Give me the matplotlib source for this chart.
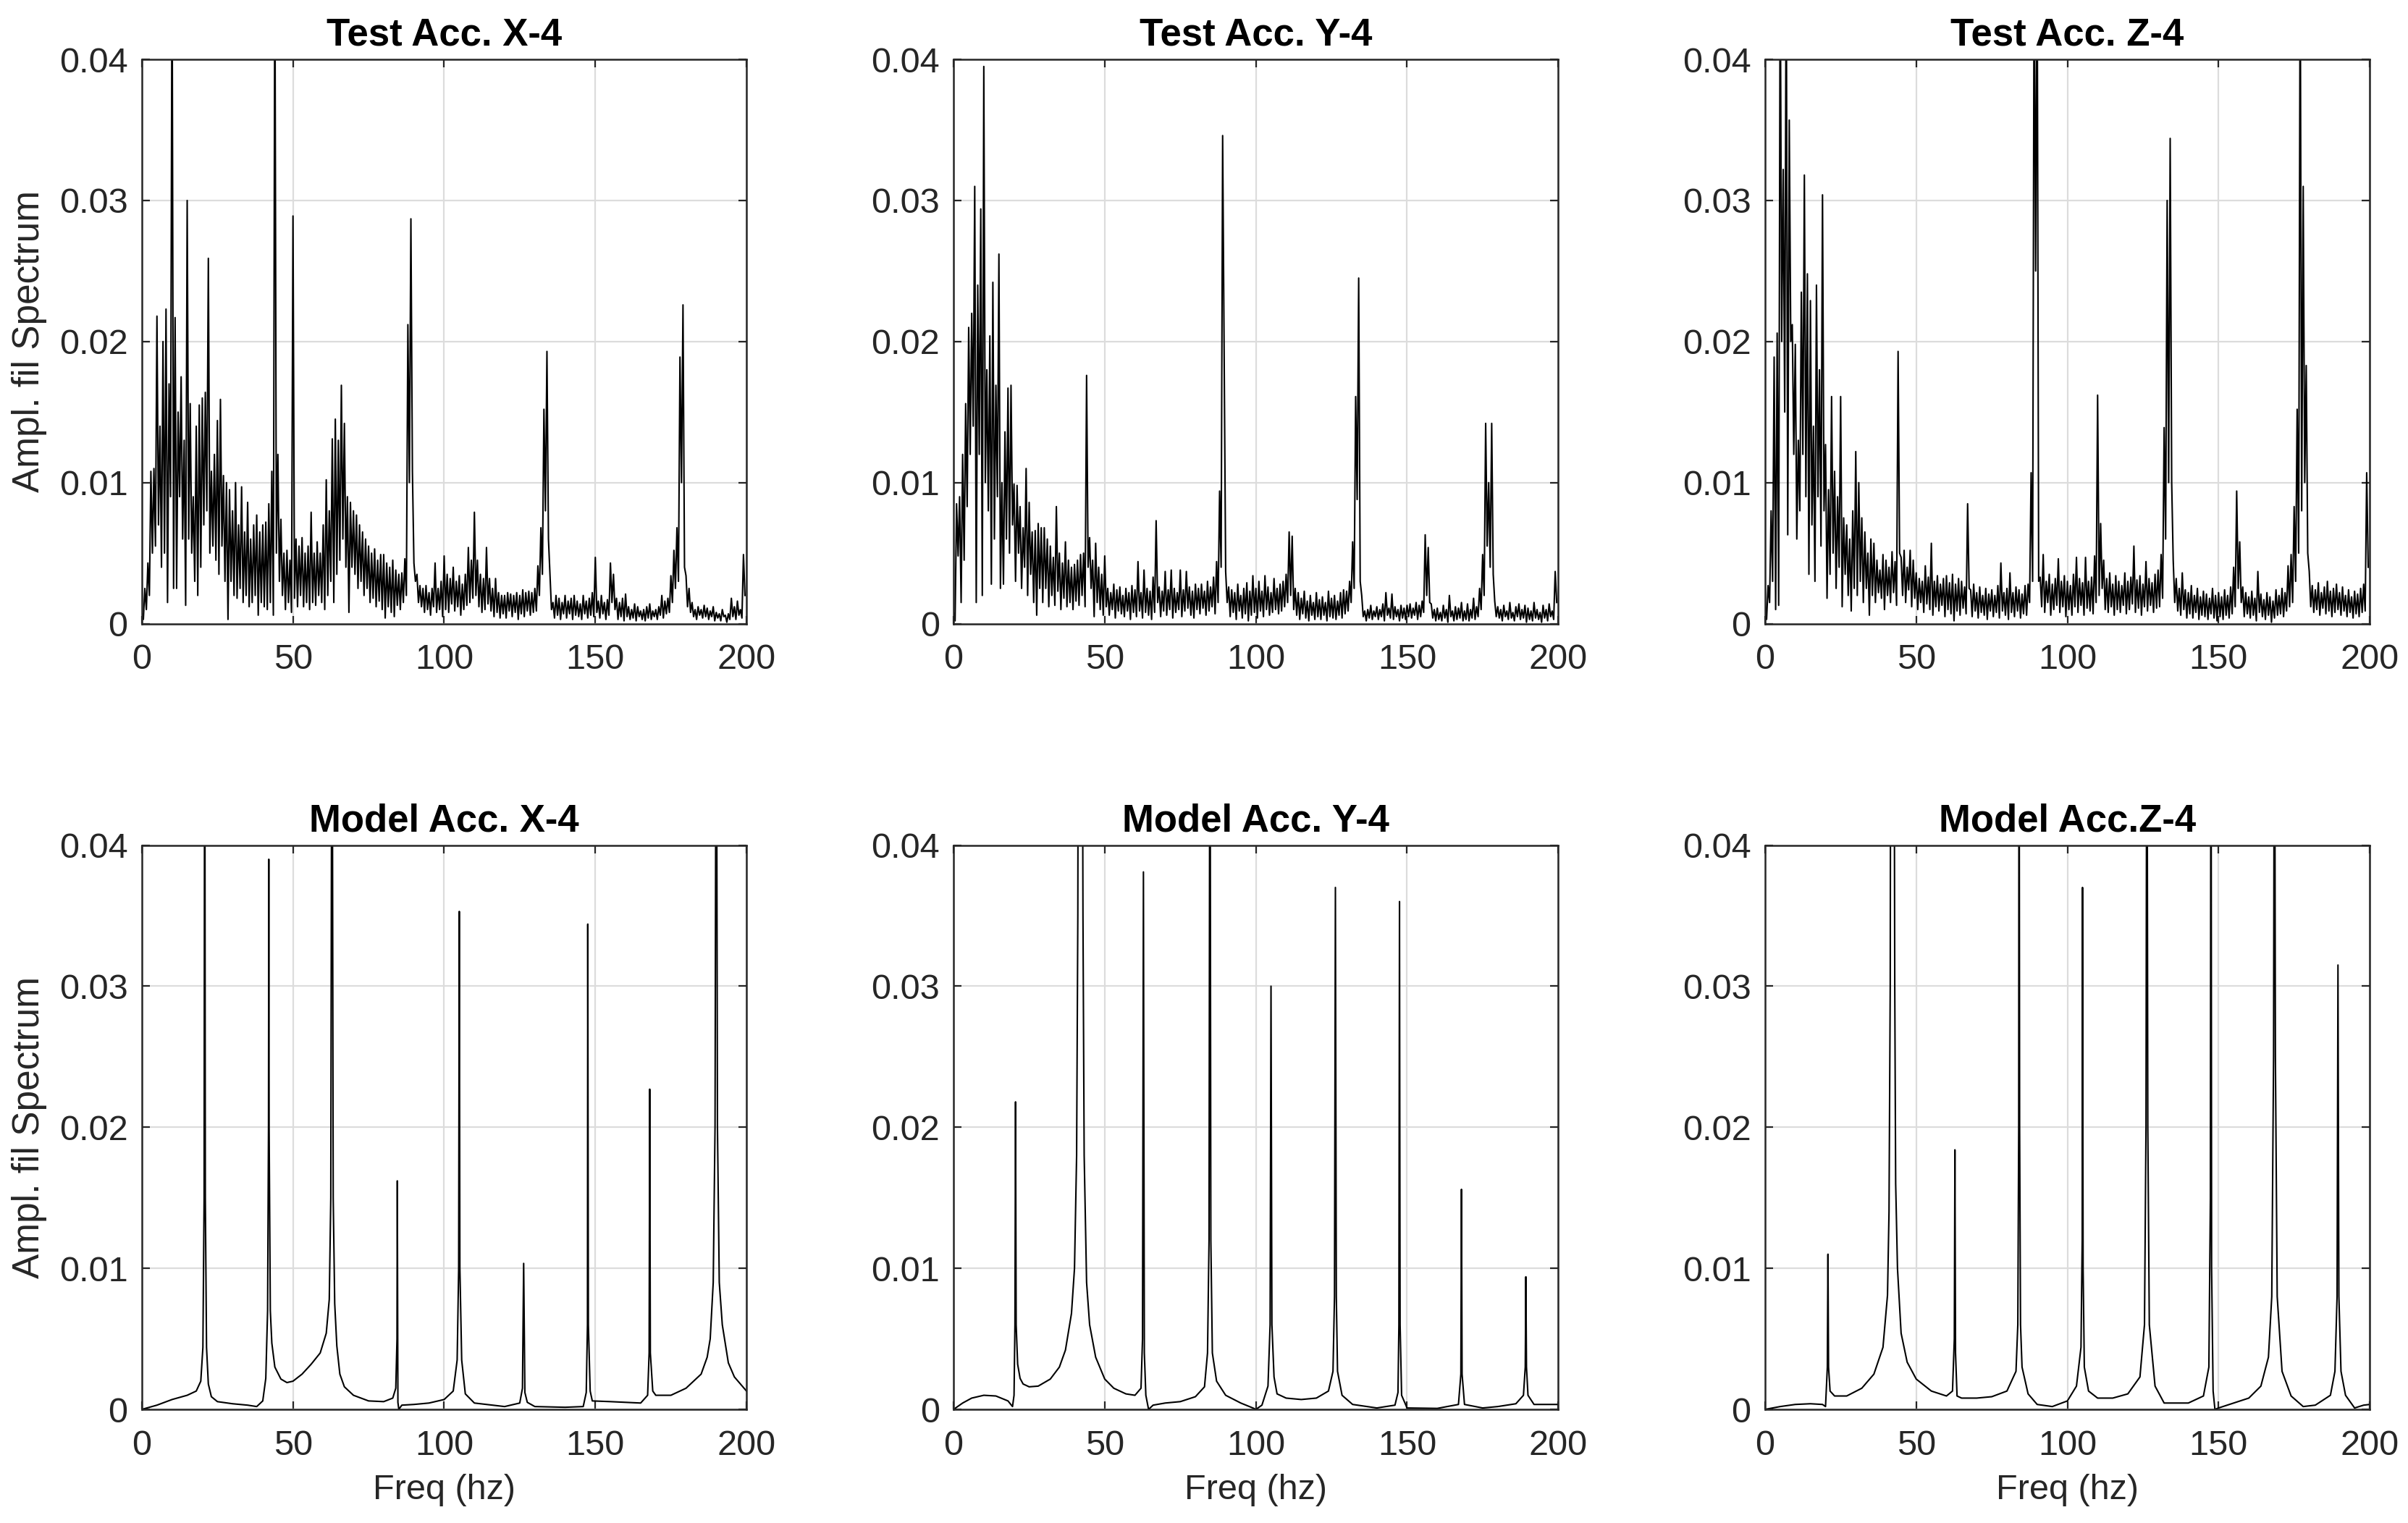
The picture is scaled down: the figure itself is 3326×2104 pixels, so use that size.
import matplotlib
matplotlib.use('Agg')
import matplotlib.pyplot as plt
import numpy as np

plt.rcParams['font.family'] = ['Liberation Sans', 'DejaVu Sans']

# ---- data (amplitudes in 1e-3 units) ----
titles = ['Test Acc. X-4', 'Test Acc. Y-4', 'Test Acc. Z-4',
          'Model Acc. X-4', 'Model Acc. Y-4', 'Model Acc.Z-4']
ylabel = 'Ampl. fil Spectrum'
xlabel = 'Freq (hz)'
xticks = [0, 50, 100, 150, 200]
xticklabels = ['0', '50', '100', '150', '200']
yticks = [0, 0.01, 0.02, 0.03, 0.04]
yticklabels = ['0', '0.01', '0.02', '0.03', '0.04']

# test spectra: per 1 Hz bin, upper and lower value of the noisy trace
test_bins = np.arange(200)

test_x_hi = [
    0.8, 2.5, 4.3, 10.8, 11.0, 21.8, 14.0, 20.0, 22.3, 17.0,
    48, 21.7, 15.0, 17.5, 13.0, 30.0, 15.6, 9.0, 14.0, 15.5,
    16.0, 16.4, 25.9, 10.8, 12.0, 14.4, 15.9, 10.5, 10.0, 9.5,
    8.0, 10.0, 7.0, 9.7, 6.5, 8.6, 6.0, 7.0, 7.7, 6.5,
    7.0, 7.2, 8.5, 10.8, 48, 12.0, 7.4, 5.0, 5.2, 4.5,
    28.9, 6.0, 5.5, 6.1, 5.0, 5.5, 7.9, 5.0, 5.8, 5.0,
    7.0, 10.2, 8.0, 13.1, 14.5, 13.0, 16.9, 14.2, 9.0, 8.6,
    8.0, 7.7, 7.0, 6.5, 6.0, 5.5, 5.0, 5.3, 4.5, 4.9,
    4.9, 4.3, 4.0, 4.5, 3.8, 3.5, 3.6, 4.6, 21.2, 28.7,
    4.3, 3.5, 2.7, 2.5, 2.7, 2.2, 2.5, 4.3, 2.5, 3.0,
    4.8, 3.5, 3.2, 4.0, 3.0, 3.4, 2.8, 3.5, 5.4, 4.5,
    7.9, 4.5, 3.5, 3.2, 5.4, 3.2, 2.5, 3.2, 2.2, 2.0,
    2.0, 2.2, 2.1, 2.0, 2.2, 2.0, 2.4, 2.2, 2.3, 2.2,
    2.5, 4.1, 6.8, 15.2, 19.3, 3.5, 1.5, 2.0, 1.8, 1.5,
    2.0, 1.6, 1.8, 2.0, 1.6, 1.4, 2.0, 1.6, 1.8, 2.2,
    4.7, 1.6, 2.0, 1.5, 1.7, 4.3, 3.5, 1.8, 1.5, 1.8,
    2.1, 1.2, 1.0, 1.4, 1.2, 0.9, 1.0, 1.2, 1.4, 0.9,
    1.0, 1.2, 2.0, 1.6, 1.8, 3.4, 5.2, 6.8, 18.9, 22.6,
    3.4, 2.5, 1.5, 1.0, 1.2, 1.0, 1.3, 1.1, 0.9, 1.2,
    0.8, 0.7, 1.0, 0.6, 0.7, 1.8, 1.2, 1.6, 1.0, 4.9,
]
test_x_lo = [
    0.3, 1.0, 2.0, 5.0, 5.5, 7.0, 4.0, 5.0, 1.5, 9.0,
    2.5, 2.5, 9.0, 6.0, 1.3, 6.0, 5.0, 3.0, 2.0, 4.0,
    7.0, 8.0, 5.0, 5.5, 4.5, 3.5, 5.5, 3.0, 0.3, 3.0,
    2.0, 1.8, 2.5, 1.5, 2.0, 1.2, 1.5, 2.0, 0.6, 1.5,
    1.2, 1.0, 1.5, 0.6, 5.0, 3.0, 2.0, 1.0, 1.5, 0.8,
    1.8, 1.2, 2.0, 1.2, 1.5, 1.0, 1.5, 1.3, 2.0, 1.5,
    1.0, 2.0, 3.0, 1.5, 3.5, 4.5, 6.0, 4.0, 0.8, 4.0,
    3.5, 2.5, 3.0, 2.0, 2.5, 1.5, 1.8, 1.2, 1.6, 1.0,
    0.4, 1.2, 0.8, 0.5, 1.3, 1.0, 1.5, 2.0, 10.0, 10.8,
    3.0, 1.5, 1.2, 0.8, 1.0, 0.6, 1.2, 0.8, 1.0, 0.5,
    1.0, 0.8, 1.4, 0.9, 1.2, 0.6, 1.0, 1.3, 1.5, 1.8,
    2.0, 1.2, 0.8, 1.0, 1.4, 0.9, 0.5, 0.8, 0.4, 0.7,
    0.4, 0.9, 0.5, 0.8, 0.3, 0.7, 0.5, 0.9, 0.6, 0.8,
    0.9, 2.0, 3.5, 8.0, 6.0, 1.0, 0.4, 0.6, 0.3, 0.7,
    0.4, 0.7, 0.3, 0.6, 0.5, 0.3, 0.7, 0.4, 0.6, 0.5,
    0.8, 0.4, 0.7, 0.3, 0.6, 1.5, 1.0, 0.3, 0.5, 0.2,
    0.5, 0.3, 0.4, 0.2, 0.5, 0.3, 0.2, 0.4, 0.3, 0.5,
    0.3, 0.6, 0.4, 0.7, 0.8, 1.5, 2.5, 3.0, 10.0, 4.0,
    1.2, 0.8, 0.5, 0.3, 0.6, 0.4, 0.5, 0.3, 0.5, 0.2,
    0.4, 0.2, 0.5, 0.1, 0.3, 0.5, 0.3, 0.6, 0.4, 2.0,
]

test_y_hi = [
    0.8, 8.5, 9.0, 12.0, 15.6, 21.0, 22.0, 31.0, 24.0, 29.4,
    39.5, 18.0, 20.4, 24.2, 16.9, 26.2, 10.0, 13.6, 16.7, 16.9,
    9.9, 9.8, 8.3, 6.8, 11.0, 8.6, 6.5, 6.6, 7.1, 6.8,
    6.8, 6.0, 5.5, 4.7, 8.3, 5.0, 4.3, 5.8, 4.5, 4.0,
    4.2, 4.5, 4.9, 5.0, 17.6, 6.1, 4.5, 5.7, 4.0, 3.5,
    4.8, 2.5, 2.2, 2.8, 2.4, 2.6, 2.0, 2.5, 2.2, 2.7,
    2.4, 4.4, 2.2, 3.8, 2.5, 2.3, 3.3, 7.3, 2.6, 2.3,
    3.7, 2.4, 3.8, 2.5, 2.2, 3.8, 2.4, 3.7, 2.6, 2.3,
    2.8, 2.5, 2.8, 2.3, 3.0, 2.6, 3.3, 4.4, 9.4, 34.6,
    3.7, 2.6, 2.4, 2.2, 2.8, 2.0, 2.5, 2.9, 2.3, 3.4,
    2.5, 3.0, 2.3, 3.4, 2.6, 2.2, 3.2, 2.5, 2.8, 3.0,
    3.5, 6.5, 6.2, 2.5, 2.2, 1.8, 2.3, 1.6, 2.0, 1.5,
    2.2, 1.7, 1.9, 1.5, 2.3, 1.8, 2.0, 1.6, 2.2, 2.4,
    2.3, 3.0, 5.8, 16.1, 24.5, 2.0, 0.9, 1.0, 1.3, 0.9,
    1.2, 1.0, 1.4, 2.2, 1.1, 2.1, 1.2, 1.0, 1.3, 1.1,
    1.3, 1.4, 1.1, 1.5, 1.3, 1.6, 6.3, 5.4, 1.4, 1.0,
    1.1, 0.8, 1.3, 1.0, 2.0, 0.9, 1.2, 1.1, 1.5, 0.9,
    1.4, 1.0, 1.8, 1.2, 2.5, 4.9, 14.2, 10.0, 14.2, 1.6,
    1.2, 1.0, 1.3, 0.9, 1.5, 0.8, 1.2, 1.4, 1.0, 1.3,
    1.1, 0.9, 1.5, 1.0, 0.8, 1.3, 1.0, 1.4, 0.9, 3.7,
]
test_y_lo = [
    0.2, 4.8, 1.5, 4.5, 8.3, 12.0, 14.0, 1.5, 12.0, 2.0,
    10.0, 8.0, 2.8, 6.0, 9.0, 2.5, 2.8, 6.0, 5.0, 7.0,
    3.0, 5.0, 2.5, 4.0, 2.0, 3.5, 1.5, 0.6, 2.5, 1.5,
    2.5, 1.2, 2.0, 1.3, 2.3, 1.0, 1.8, 1.2, 1.5, 1.0,
    1.6, 1.3, 2.0, 1.2, 4.0, 2.5, 0.5, 1.5, 1.0, 0.6,
    1.2, 0.6, 1.0, 0.4, 0.9, 0.7, 0.5, 0.9, 0.3, 0.8,
    0.5, 0.9, 0.4, 0.8, 0.6, 0.3, 0.8, 1.5, 0.5, 0.9,
    0.6, 1.0, 0.4, 0.8, 1.0, 0.5, 0.9, 1.1, 0.6, 0.4,
    1.0, 0.7, 1.1, 0.6, 0.9, 1.2, 0.7, 1.5, 4.0, 19.5,
    1.5, 0.5, 0.8, 0.3, 0.9, 0.4, 0.7, 0.2, 0.6, 0.8,
    0.4, 0.9, 0.5, 1.0, 0.6, 0.8, 1.0, 0.7, 0.9, 1.2,
    1.5, 2.0, 1.0, 0.6, 0.3, 0.7, 0.4, 0.2, 0.6, 0.3,
    0.5, 0.3, 0.6, 0.2, 0.5, 0.4, 0.3, 0.6, 0.4, 0.7,
    0.9, 1.5, 2.5, 8.8, 3.0, 0.5, 0.2, 0.4, 0.3, 0.5,
    0.3, 0.5, 0.2, 0.6, 0.4, 0.3, 0.5, 0.2, 0.4, 0.3,
    0.5, 0.4, 0.6, 0.3, 0.5, 0.8, 2.0, 1.5, 0.4, 0.2,
    0.3, 0.2, 0.4, 0.1, 0.5, 0.2, 0.3, 0.4, 0.2, 0.3,
    0.2, 0.4, 0.3, 0.5, 1.0, 2.0, 5.5, 4.0, 3.5, 0.5,
    0.4, 0.2, 0.5, 0.3, 0.4, 0.2, 0.5, 0.3, 0.4, 0.1,
    0.3, 0.2, 0.4, 0.3, 0.1, 0.4, 0.2, 0.5, 0.3, 1.5,
]

test_z_hi = [
    1.5, 2.7, 8.0, 18.9, 20.6, 48, 32.2, 48, 35.7, 21.2,
    19.8, 13.0, 23.5, 31.8, 24.8, 22.9, 14.0, 24.0, 18.0, 30.4,
    12.7, 9.5, 16.1, 10.8, 9.0, 16.1, 7.5, 7.0, 6.0, 8.0,
    12.2, 10.0, 7.5, 6.5, 5.0, 6.0, 5.7, 4.5, 3.8, 4.9,
    4.5, 4.0, 5.1, 4.4, 19.3, 4.7, 5.2, 4.0, 5.2, 4.5,
    3.6, 3.2, 3.0, 4.1, 3.3, 5.7, 3.0, 3.4, 2.8, 3.2,
    3.4, 2.9, 3.5, 2.8, 3.2, 3.0, 2.6, 8.5, 2.4, 2.8,
    2.2, 2.6, 2.0, 2.5, 2.1, 2.4, 2.0, 2.7, 4.3, 2.2,
    2.5, 3.6, 2.2, 2.6, 2.4, 2.1, 2.7, 2.8, 10.7, 48,
    48, 3.3, 4.9, 3.0, 3.5, 2.8, 3.2, 4.6, 3.0, 3.4,
    3.0, 2.7, 3.5, 4.7, 3.2, 2.9, 4.7, 3.0, 3.3, 4.8,
    16.2, 7.1, 4.5, 3.2, 3.6, 2.8, 3.4, 3.0, 2.7, 3.6,
    3.0, 3.3, 5.5, 3.1, 3.4, 2.8, 4.4, 3.2, 2.9, 3.5,
    3.8, 4.9, 13.9, 30.0, 34.4, 4.5, 3.2, 2.5, 3.6, 2.4,
    2.2, 2.7, 2.0, 2.5, 1.9, 2.3, 2.1, 1.8, 2.5, 2.0,
    2.2, 1.9, 2.4, 2.0, 2.6, 4.0, 9.4, 5.8, 2.6, 2.2,
    1.9, 2.3, 1.8, 3.7, 2.1, 1.7, 2.2, 1.9, 1.6, 2.4,
    2.0, 2.5, 2.2, 4.1, 4.9, 8.3, 15.2, 48, 31.0, 18.3,
    3.7, 2.7, 2.4, 2.9, 2.2, 2.6, 3.0, 2.3, 2.5, 2.8,
    2.2, 2.6, 2.0, 2.4, 1.9, 2.3, 2.1, 2.5, 2.8, 10.7,
]
test_z_lo = [
    0.3, 1.5, 3.0, 1.0, 1.3, 20.0, 15.0, 6.3, 20.0, 12.0,
    6.0, 8.0, 12.0, 9.0, 3.5, 7.0, 3.0, 9.0, 5.5, 8.0,
    1.8, 3.5, 5.0, 2.5, 4.0, 1.2, 3.5, 2.0, 0.9, 2.5,
    2.0, 3.0, 1.5, 2.5, 0.6, 2.0, 1.5, 2.2, 1.8, 1.0,
    2.0, 1.5, 2.2, 1.3, 5.0, 2.0, 1.5, 2.4, 1.2, 1.8,
    1.0, 1.5, 0.8, 1.4, 1.0, 0.6, 1.2, 0.9, 1.3, 0.5,
    1.0, 0.7, 0.2, 0.9, 0.6, 1.1, 0.7, 2.5, 0.5, 0.9,
    0.4, 0.8, 0.6, 0.3, 0.9, 0.5, 0.8, 0.4, 0.9, 0.6,
    0.3, 0.8, 0.5, 0.9, 0.4, 0.7, 0.6, 1.5, 3.0, 25.0,
    3.0, 1.2, 0.8, 1.5, 0.6, 1.0, 1.3, 0.8, 1.2, 0.5,
    1.0, 0.6, 1.2, 0.8, 1.3, 0.6, 1.1, 0.9, 0.7, 1.5,
    2.0, 2.5, 1.0, 0.8, 1.2, 0.6, 1.0, 0.8, 1.3, 0.7,
    1.0, 1.4, 0.8, 1.1, 0.6, 1.2, 0.9, 1.3, 0.8, 1.1,
    1.2, 1.8, 6.0, 10.0, 10.0, 1.5, 0.9, 0.6, 1.0, 0.4,
    0.7, 0.4, 0.8, 0.3, 0.6, 0.5, 0.3, 0.7, 0.4, 0.2,
    0.5, 0.3, 0.6, 0.4, 0.7, 1.2, 2.5, 1.5, 0.5, 0.7,
    0.4, 0.6, 0.2, 0.8, 0.5, 0.3, 0.6, 0.1, 0.4, 0.6,
    0.7, 0.5, 0.9, 1.2, 1.5, 3.0, 5.0, 8.0, 10.0, 5.0,
    1.2, 0.8, 1.0, 0.6, 1.1, 0.7, 0.9, 0.5, 0.8, 1.0,
    0.6, 0.9, 0.5, 0.8, 0.4, 0.7, 0.5, 0.8, 0.9, 4.0,
]

# model spectra: (freq Hz, amplitude 1e-3) points
model_x = [
    (0, 0.0), (5, 0.3), (10, 0.7), (15, 1.0), (18, 1.3), (19.5, 2.0),
    (20.2, 4.4), (20.6, 15), (20.8, 60), (21.0, 15), (21.4, 4.4), (22, 1.8),
    (23, 0.9), (25, 0.55), (30, 0.4), (35, 0.3), (38, 0.2), (40, 0.6),
    (41, 2.2), (41.6, 7), (41.9, 20), (42.0, 39), (42.1, 20), (42.5, 7),
    (43, 4.7), (44, 3.0), (46, 2.15), (48, 1.9), (50, 2.0), (53, 2.5),
    (56, 3.2), (59, 4.0), (61, 5.4), (62, 7.8), (62.5, 15), (62.9, 60),
    (63.3, 15), (63.8, 7.5), (64.5, 4.5), (65.5, 2.5), (67, 1.6), (70, 1.0),
    (75, 0.6), (80, 0.55), (83, 0.8), (84, 1.5), (84.4, 5), (84.5, 16.2),
    (84.7, 0.5), (85, 0.0), (86, 0.3), (90, 0.35), (95, 0.45), (100, 0.7),
    (103, 1.3), (104.3, 3.5), (104.8, 10), (105, 35.3), (105.2, 10), (105.8, 3.5),
    (107, 1.1), (110, 0.45), (120, 0.2), (125, 0.45), (125.9, 1.5), (126.3, 10.35),
    (126.7, 1.2), (127.5, 0.5), (130, 0.2), (140, 0.15), (146, 0.2), (147, 1.2),
    (147.4, 6), (147.5, 34.4), (147.7, 6), (148.3, 1.3), (149, 0.6), (155, 0.55),
    (165, 0.45), (167.3, 1.0), (167.8, 4), (168, 22.7), (168.2, 4), (169, 1.3),
    (170, 1.0), (175, 1.0), (180, 1.5), (185, 2.5), (187, 3.7), (188, 5),
    (189, 9), (189.6, 20), (190, 60), (190.4, 20), (191, 9), (192, 6),
    (194, 3.3), (196, 2.3), (198, 1.8), (200, 1.3),
]
model_y = [
    (0, 0.0), (3, 0.45), (6, 0.8), (10, 1.0), (14, 0.95), (18, 0.6),
    (19.5, 0.2), (20, 1.0), (20.3, 6), (20.5, 21.8), (20.7, 6), (21.2, 3.2),
    (22, 2.2), (23, 1.8), (25, 1.6), (28, 1.65), (32, 2.15), (35, 3.0),
    (37, 4.2), (39, 6.8), (40, 10), (40.7, 18), (41.1, 35), (41.3, 60),
    (42.5, 60), (42.8, 35), (43.2, 18), (44, 9), (45, 6.0), (47, 3.7),
    (50, 2.15), (53, 1.5), (57, 1.1), (60, 1.0), (62, 1.5), (62.5, 5),
    (62.8, 38.1), (63.1, 4), (63.6, 1.0), (64.5, 0.0), (66, 0.3), (70, 0.45),
    (75, 0.55), (80, 0.9), (83, 1.6), (84, 4), (84.5, 12), (84.8, 60),
    (85.1, 12), (85.6, 4), (87, 2.0), (90, 1.0), (95, 0.45), (99, 0.1),
    (100, 0.0), (102, 0.3), (104, 1.65), (104.7, 6), (105, 30.0), (105.3, 6),
    (106, 2.3), (107, 1.1), (110, 0.8), (115, 0.7), (120, 0.8), (124, 1.3),
    (125.5, 2.7), (126, 8), (126.3, 37.0), (126.6, 8), (127, 2.7), (128.5, 1.0),
    (132, 0.35), (140, 0.1), (146, 0.3), (147, 1.2), (147.3, 6), (147.5, 36.0),
    (147.7, 6), (148.2, 1.0), (150, 0.1), (160, 0.07), (167, 0.35), (167.8, 2.5),
    (168, 15.6), (168.2, 2.5), (169, 0.35), (175, 0.1), (180, 0.2), (186, 0.4),
    (188.5, 1.0), (189.1, 3), (189.3, 9.4), (189.5, 3), (190, 1.0), (192, 0.35),
    (200, 0.35),
]
model_z = [
    (0, 0.0), (5, 0.2), (10, 0.35), (15, 0.4), (19, 0.35), (20, 0.2),
    (20.6, 3), (20.8, 11.0), (21.0, 3), (21.5, 1.3), (23, 0.95), (27, 0.95),
    (32, 1.5), (36, 2.5), (39, 4.4), (40.5, 8.1), (41, 14), (41.4, 30),
    (41.6, 60), (42.6, 60), (42.9, 30), (43.2, 16), (43.8, 10), (45, 5.4),
    (47, 3.35), (50, 2.15), (55, 1.3), (60, 0.95), (62, 1.3), (62.6, 5),
    (62.8, 18.4), (63.0, 4), (63.5, 0.95), (65, 0.8), (70, 0.8), (75, 0.9),
    (80, 1.3), (83, 2.7), (83.6, 6), (83.9, 20), (84, 60), (84.2, 20),
    (84.5, 6), (85, 3), (87, 1.1), (90, 0.35), (95, 0.2), (100, 0.6),
    (103, 1.65), (104.5, 4.4), (104.9, 12), (105, 37), (105.2, 10), (105.6, 3),
    (107, 1.3), (110, 0.8), (115, 0.8), (120, 1.1), (124, 2.3), (125.5, 6),
    (126, 20), (126.3, 60), (126.6, 20), (127.1, 6), (129, 1.65), (132, 0.45),
    (140, 0.45), (145, 0.95), (146.8, 3), (147.3, 15), (147.5, 60), (147.7, 10),
    (148.2, 1.3), (148.8, 0.0), (150, 0.1), (155, 0.45), (160, 0.8), (164, 1.65),
    (166.5, 3.7), (167.6, 8), (168.2, 25), (168.5, 60), (168.8, 25), (169.4, 8),
    (171, 2.7), (174, 0.95), (178, 0.2), (182, 0.3), (187, 1.0), (188.5, 2.7),
    (189.2, 8), (189.5, 31.5), (189.8, 8), (190.5, 2.7), (192, 1.0), (195, 0.1),
    (198, 0.3), (200, 0.35),
]

test_series = [(test_x_hi, test_x_lo), (test_y_hi, test_y_lo), (test_z_hi, test_z_lo)]
model_series = [model_x, model_y, model_z]

# ---- figure ----
fig = plt.figure(figsize=(16.63, 10.52), dpi=200)
lefts = [0.0589, 0.396, 0.733]
bottoms = [0.5905, 0.0746]
w, h = 0.2511, 0.3705
axcol = '#262626'


def style(ax, title, first_col, bottom_row):
    ax.set_xlim(0, 200)
    ax.set_ylim(0, 0.04)
    ax.set_xticks(xticks)
    ax.set_xticklabels(xticklabels)
    ax.set_yticks(yticks)
    ax.set_yticklabels(yticklabels)
    ax.grid(True, color='#dcdcdc', linewidth=0.8)
    ax.set_axisbelow(True)
    ax.tick_params(direction='in', length=4, width=0.8, colors=axcol,
                   labelsize=17.5, top=True, right=True)
    ax.tick_params(axis='x', pad=10)
    ax.tick_params(axis='y', pad=7)
    for s in ax.spines.values():
        s.set_color(axcol)
        s.set_linewidth(0.9)
    ax.set_title(title, fontsize=19, fontweight='bold', pad=7)
    if first_col:
        ax.set_ylabel(ylabel, fontsize=18.5, color=axcol, labelpad=6)
    if bottom_row:
        ax.set_xlabel(xlabel, fontsize=17.5, color=axcol, labelpad=6)


for i, (hi, lo) in enumerate(test_series):
    ax = fig.add_axes([lefts[i], bottoms[0], w, h])
    x = np.empty(400)
    y = np.empty(400)
    x[0::2] = test_bins
    x[1::2] = test_bins + 0.5
    y[0::2] = np.array(hi) * 1e-3
    y[1::2] = np.array(lo) * 1e-3
    ax.plot(x, y, color='black', linewidth=0.75)
    style(ax, titles[i], i == 0, False)

for i, pts in enumerate(model_series):
    f, a = zip(*pts)
    ax = fig.add_axes([lefts[i], bottoms[1], w, h])
    ax.plot(f, np.array(a) * 1e-3, color='black', linewidth=0.75)
    style(ax, titles[3 + i], i == 0, True)

fig.savefig('out.png', dpi=200, facecolor='white')
